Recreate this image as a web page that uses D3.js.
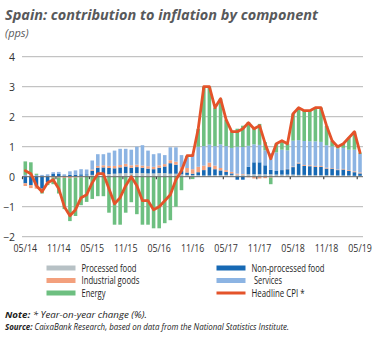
<!DOCTYPE html>
<html>
<head>
<meta charset="utf-8">
<script src="https://cdn.jsdelivr.net/npm/d3@7/dist/d3.min.js"></script>
<style>
  html, body { margin: 0; padding: 0; background: #ffffff; }
  svg { display: block; }
  text { font-family: "Open Sans", "Noto Sans", sans-serif; }
</style>
</head>
<body>
<svg id="chart" width="382" height="338"></svg>
<script>
// Monthly contributions to Spanish CPI (percentage points), 05/14 – 05/19
const months = [
  "05/14","06/14","07/14","08/14","09/14","10/14","11/14","12/14",
  "01/15","02/15","03/15","04/15","05/15","06/15","07/15","08/15","09/15","10/15","11/15","12/15",
  "01/16","02/16","03/16","04/16","05/16","06/16","07/16","08/16","09/16","10/16","11/16","12/16",
  "01/17","02/17","03/17","04/17","05/17","06/17","07/17","08/17","09/17","10/17","11/17","12/17",
  "01/18","02/18","03/18","04/18","05/18","06/18","07/18","08/18","09/18","10/18","11/18","12/18",
  "01/19","02/19","03/19","04/19","05/19"
];
const tickLabels = ["05/14","11/14","05/15","11/15","05/16","11/16","05/17","11/17","05/18","11/18","05/19"];
const yTicks = [-2, -1, 0, 1, 2, 3, 4];

const processedFood = [
  0.02,0.02,0.01,0.00,0.00,0.01,0.01,0.01,
  0.02,0.02,0.03,0.04,0.06,0.08,0.09,0.09,0.10,0.11,0.12,0.12,
  0.12,0.12,0.11,0.11,0.12,0.12,0.10,0.10,0.08,0.06,0.05,0.05,
  0.04,0.04,0.05,0.05,0.06,0.06,0.07,0.07,0.08,0.08,0.08,0.08,
  0.08,0.07,0.07,0.07,0.07,0.06,0.06,0.05,0.05,0.05,0.05,0.05,
  0.04,0.04,0.04,0.03,0.03
];
const nonProcessedFood = [
  -0.22,-0.28,-0.32,-0.40,-0.18,0.08,0.08,0.03,
  0.04,0.05,0.05,0.04,0.14,0.22,0.22,0.20,0.18,0.20,0.22,0.18,
  0.20,0.18,0.16,0.14,0.18,0.22,0.35,0.30,0.12,0.08,0.05,0.10,
  0.18,0.28,0.20,0.16,0.10,0.05,-0.10,-0.10,0.25,0.40,0.40,0.30,
  0.15,0.12,0.15,0.18,0.25,0.38,0.30,0.30,0.28,0.28,0.22,0.22,
  0.18,0.20,0.15,0.12,0.08
];
const industrialGoods = [
  -0.09,-0.10,-0.08,-0.05,-0.04,-0.03,-0.03,-0.04,
  -0.05,-0.03,-0.02,0.00,0.04,0.06,0.07,0.07,0.08,0.08,0.09,0.08,
  0.08,0.07,0.08,0.08,0.08,0.08,0.10,0.10,0.12,0.15,0.15,0.18,
  0.15,0.15,0.12,0.08,0.06,0.05,0.03,0.02,-0.02,-0.06,-0.06,-0.05,
  -0.03,-0.01,0.00,0.01,0.02,0.03,0.03,0.03,0.03,0.03,0.03,0.02,
  0.02,0.02,0.03,0.03,0.03
];
const services = [
  0.04,0.04,0.05,0.06,0.08,0.06,0.07,0.04,
  0.12,0.14,0.17,0.16,0.30,0.39,0.37,0.44,0.51,0.54,0.50,0.52,
  0.60,0.68,0.52,0.42,0.40,0.30,0.43,0.48,0.40,0.35,0.50,0.67,
  0.65,0.60,0.65,0.79,0.80,0.80,0.90,0.90,0.70,0.60,0.58,0.50,
  0.55,0.62,0.68,0.62,0.86,0.75,0.80,0.80,0.82,0.80,0.75,0.72,
  0.70,0.70,0.68,0.72,0.62
];
const energy = [
  0.45,0.42,0.04,-0.11,-0.06,-0.22,-0.53,-1.04,
  -1.43,-1.28,-0.93,-0.84,-0.74,-0.65,-0.65,-1.20,-1.60,-1.60,-1.20,-0.85,
  -1.25,-1.60,-1.60,-1.72,-1.72,-1.55,-1.45,-1.00,-0.45,0.05,-0.08,0.60,
  1.98,1.93,1.28,1.52,0.88,0.54,0.60,0.71,0.79,0.58,0.70,0.27,
  -0.22,0.30,0.30,0.22,0.90,1.08,1.01,1.02,1.12,1.14,0.65,0.19,
  0.06,0.14,0.40,0.60,0.04
];
const headlineCPI = [
  0.2,0.1,-0.3,-0.5,-0.2,-0.1,-0.4,-1.0,
  -1.3,-1.1,-0.7,-0.6,-0.2,0.1,0.1,-0.4,-0.9,-0.7,-0.3,0.0,
  -0.3,-0.8,-0.8,-1.1,-1.0,-0.8,-0.6,-0.1,0.2,0.7,0.7,1.6,
  3.0,3.0,2.3,2.6,1.9,1.5,1.5,1.6,1.8,1.6,1.7,1.1,
  0.6,1.1,1.2,1.1,2.1,2.3,2.2,2.2,2.3,2.3,1.7,1.2,
  1.0,1.1,1.3,1.5,0.8
];

const seriesKeys = ["processed", "nonprocessed", "industrial", "services", "energy"];
const seriesNames = {
  processed: "Processed food", nonprocessed: "Non-processed food",
  industrial: "Industrial goods", services: "Services", energy: "Energy"
};
const colors = {
  processed: "#b7c1c5", nonprocessed: "#1769b4", industrial: "#f3a07d",
  services: "#8cb4e3", energy: "#6dbf80", headline: "#e4532a"
};

const rows = months.map((m, i) => ({
  month: m,
  processed: processedFood[i],
  nonprocessed: nonProcessedFood[i],
  industrial: industrialGoods[i],
  services: services[i],
  energy: energy[i],
  headline: headlineCPI[i]
}));

const svg = d3.select("#chart");

const x = d3.scaleBand().domain(months).range([22.5, 362.8]).paddingInner(0.36).paddingOuter(0.18);
const y = d3.scaleLinear().domain([-2, 4]).range([236.7, 56.7]);
const xc = m => x(m) + x.bandwidth() / 2;

// Squeeze a text element horizontally to a given width (narrow typeface look)
function fitWidth(sel, w) {
  sel.attr("textLength", w).attr("lengthAdjust", "spacingAndGlyphs");
  return sel;
}

// Title and unit
fitWidth(svg.append("text").attr("x", 5).attr("y", 20)
  .attr("font-size", 15).attr("font-weight", 700).attr("font-style", "italic")
  .attr("fill", "#58595b")
  .text("Spain: contribution to inflation by component"), 313);
svg.append("text").attr("x", 5).attr("y", 37)
  .attr("font-size", 11).attr("font-style", "italic").attr("fill", "#58595b")
  .text("(pps)");

// Horizontal grid lines and y-axis labels
const yAxis = d3.axisLeft(y).tickValues(yTicks).tickSize(0).tickPadding(0)
  .tickFormat(d3.format("d"));
const gy = svg.append("g").attr("transform", "translate(15,0)").call(yAxis);
gy.select(".domain").remove();
gy.selectAll("text").attr("font-size", 10.5).attr("fill", "#333")
  .attr("font-family", "'Open Sans', sans-serif");

svg.append("g").selectAll("line").data(yTicks.filter(d => d !== 0)).join("line")
  .attr("x1", 22).attr("x2", 363)
  .attr("y1", d => y(d)).attr("y2", d => y(d))
  .attr("stroke", "#b5b5b5").attr("stroke-width", 1);

// Stacked bars (positive parts above zero, negative below)
const stack = d3.stack().keys(seriesKeys).offset(d3.stackOffsetDiverging);
const layers = stack(rows);
svg.append("g").selectAll("g").data(layers).join("g")
  .attr("fill", d => colors[d.key])
  .selectAll("rect").data(d => d).join("rect")
  .attr("x", d => x(d.data.month))
  .attr("width", x.bandwidth())
  .attr("y", d => y(Math.max(d[0], d[1])))
  .attr("height", d => Math.abs(y(d[0]) - y(d[1])));

// Zero line with small ticks every six months
svg.append("line").attr("x1", 22).attr("x2", 363).attr("y1", y(0)).attr("y2", y(0))
  .attr("stroke", "#666").attr("stroke-width", 1);
svg.append("g").selectAll("line").data(tickLabels).join("line")
  .attr("x1", d => x(d) - x.step() * x.paddingInner() / 2)
  .attr("x2", d => x(d) - x.step() * x.paddingInner() / 2)
  .attr("y1", y(0)).attr("y2", y(0) + 2.5)
  .attr("stroke", "#444").attr("stroke-width", 1.2);

// Headline CPI line
const line = d3.line().x(d => xc(d.month)).y(d => y(d.headline));
svg.append("path").datum(rows)
  .attr("d", line).attr("fill", "none")
  .attr("stroke", colors.headline).attr("stroke-width", 2.8)
  .attr("stroke-linejoin", "round").attr("stroke-linecap", "round");

// X-axis labels
const xAxis = d3.axisBottom(x).tickValues(tickLabels).tickSize(0).tickPadding(0);
const gx = svg.append("g").attr("transform", "translate(0,252)").call(xAxis);
gx.select(".domain").remove();
gx.selectAll("text").attr("font-size", 10.5).attr("fill", "#333").attr("dy", 0)
  .attr("font-family", "'Open Sans', sans-serif")
  .attr("textLength", 23.5).attr("lengthAdjust", "spacingAndGlyphs");

// Legend
const legendItems = [
  { key: "processed", col: 0, row: 0, w: 55 },
  { key: "industrial", col: 0, row: 1, w: 58 },
  { key: "energy", col: 0, row: 2, w: 24 },
  { key: "nonprocessed", col: 1, row: 0, w: 73 },
  { key: "services", col: 1, row: 1, w: 28 },
  { key: "headline", col: 1, row: 2, w: 53 }
];
const colX = [46.5, 216.5];
const rowY = [268, 280.5, 293];
const lg = svg.append("g");
legendItems.forEach(it => {
  const isLine = it.key === "headline";
  lg.append("rect")
    .attr("x", colX[it.col]).attr("width", 29)
    .attr("y", rowY[it.row] - (isLine ? 1.5 : 2.5)).attr("height", isLine ? 3 : 5)
    .attr("fill", colors[it.key]);
  fitWidth(lg.append("text")
    .attr("x", colX[it.col] + 35 + (it.key === "services" ? 2.5 : 0)).attr("y", rowY[it.row] + 3.8)
    .attr("font-size", 10.5).attr("fill", "#222")
    .text(isLine ? "Headline CPI *" : seriesNames[it.key]), it.w);
});

// Notes
const note = fitWidth(svg.append("text").attr("x", 5).attr("y", 318).attr("font-size", 8.5)
  .attr("font-style", "italic").attr("fill", "#222"), 142);
note.append("tspan").attr("font-weight", 700).text("Note:");
note.append("tspan").text(" * Year-on-year change (%).");
const src = fitWidth(svg.append("text").attr("x", 5).attr("y", 330).attr("font-size", 8.5)
  .attr("font-style", "italic").attr("fill", "#222"), 284);
src.append("tspan").attr("font-weight", 700).text("Source:");
src.append("tspan").text(" CaixaBank Research, based on data from the National Statistics Institute.");
</script>
</body>
</html>
